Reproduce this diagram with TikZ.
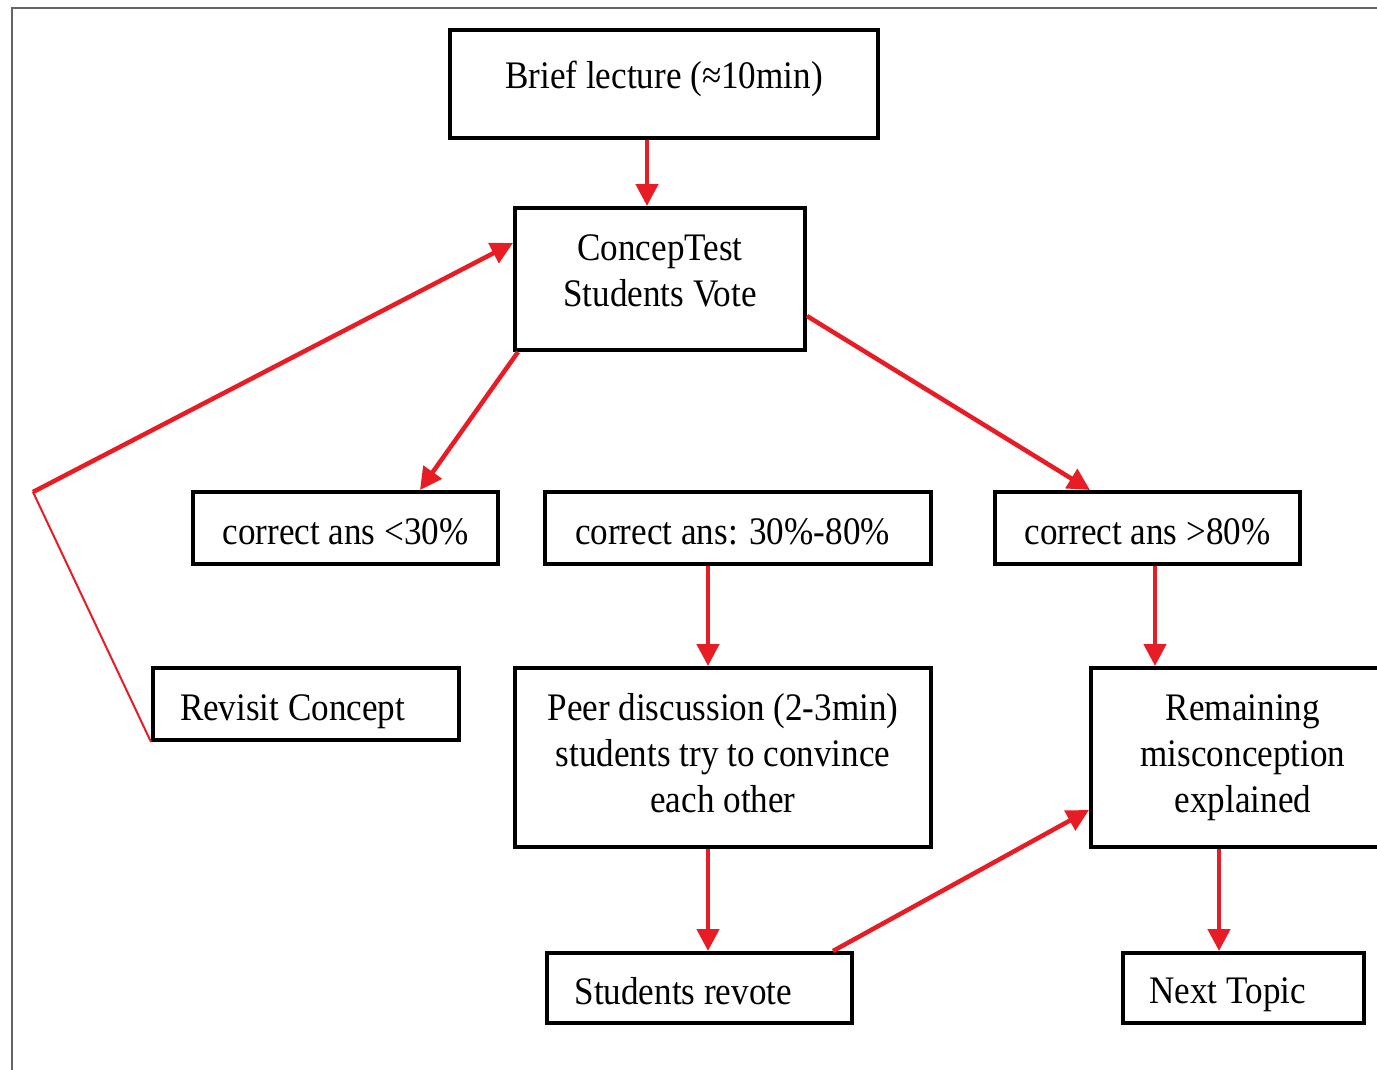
\documentclass[tikz,border=0pt]{standalone}
\usepackage{fontspec}
\setmainfont{Liberation Serif}[FakeStretch=0.9]
\usetikzlibrary{arrows.meta}
\definecolor{arr}{RGB}{232,28,36}
\definecolor{frm}{RGB}{100,100,100}
\newcommand{\mlines}[1]{\begin{tabular}{@{}c@{}}#1\end{tabular}}
\newcommand{\lift}[2]{\raisebox{#1}[\height][\depth]{#2}}
\tikzset{
  box/.style={draw=black, line width=4pt, rectangle, inner sep=0pt,
    font=\fontsize{39}{46}\selectfont},
  flow/.style={draw=arr, line width=4.5pt, -{Triangle[length=22pt,width=22pt]}},
  thinflow/.style={draw=arr, line width=2pt},
}
\begin{document}
\begin{tikzpicture}[x=1pt,y=-1pt]
\useasboundingbox (0,0) rectangle (1377,1069);
\draw[frm, line width=2pt] (12,1080) -- (12,8) -- (1390,8);

\node[box, minimum width=428pt, minimum height=108pt] (brief) at (664,84) {\lift{5pt}{Brief lecture (≈10min)}};
\node[box, minimum width=290pt, minimum height=142pt] (concep) at (660,279) {\lift{5pt}{\mlines{ConcepTest\\Students Vote}}};
\node[box, minimum width=305pt, minimum height=72pt] (lt) at (345.5,528) {\lift{-4pt}{correct ans <30\%}};
\node[box, minimum width=386pt, minimum height=72pt] (mid) at (738,528) {\lift{-4pt}{\makebox[326pt][l]{correct ans: 30\%-80\%}}};
\node[box, minimum width=305pt, minimum height=72pt] (gt) at (1147.5,528) {\lift{-4pt}{correct ans >80\%}};
\node[box, minimum width=306pt, minimum height=72pt] (revisit) at (306,704) {\lift{-8pt}{\makebox[252pt][l]{Revisit Concept}}};
\node[box, minimum width=416pt, minimum height=179pt] (peer) at (723,757.5) {\mlines{Peer discussion (2-3min)\\students try to convince\\each other}};
\node[box, minimum width=304pt, minimum height=179pt] (remain) at (1243,757.5) {\mlines{Remaining\\misconception\\explained}};
\node[box, minimum width=305pt, minimum height=70pt] (revote) at (699.5,988) {\lift{-3pt}{\makebox[250pt][l]{Students revote}}};
\node[box, minimum width=241pt, minimum height=70pt] (next) at (1243.5,988) {\lift{-7pt}{\makebox[188pt][l]{Next Topic}}};

\coordinate (bend) at (33,492);

\draw[flow] ([xshift=-17pt]brief.south) -- ([xshift=-13pt]concep.north);
\draw[flow] ([xshift=5pt]concep.south west) -- ([xshift=74.5pt]lt.north);
\draw[flow] ([yshift=-37pt]concep.east) -- ([xshift=-57.5pt]gt.north);
\draw[flow] ([xshift=-30pt]mid.south) -- ([xshift=-15pt]peer.north);
\draw[flow] ([xshift=7.5pt]gt.south) -- ([xshift=-88pt]remain.north);
\draw[flow] ([xshift=-15pt]peer.south) -- ([xshift=8.5pt]revote.north);
\draw[flow] ([xshift=133.5pt]revote.north) -- ([yshift=-52.5pt]remain.west);
\draw[flow] ([xshift=-24pt]remain.south) -- ([xshift=-24.5pt]next.north);
\draw[thinflow] (revisit.south west) -- (bend);
\draw[flow] (bend) -- ([yshift=36pt]concep.west);
\end{tikzpicture}
\end{document}
